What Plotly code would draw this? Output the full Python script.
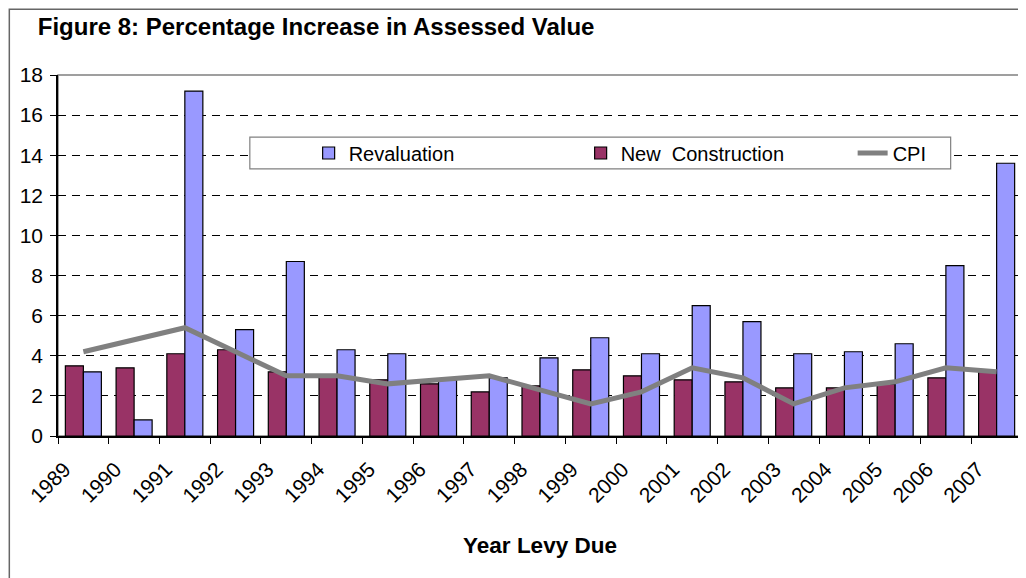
import plotly.graph_objects as go

years = [str(y) for y in range(1989, 2008)]
revaluation = [3.2, 0.8, 17.2, 5.3, 8.7, 4.3, 4.1, 2.8, 2.9, 3.9, 4.9, 4.1, 6.5, 5.7, 4.1, 4.2, 4.6, 8.5, 13.6]
new_construction = [3.5, 3.4, 4.1, 4.3, 3.2, 3.0, 2.8, 2.6, 2.2, 2.5, 3.3, 3.0, 2.8, 2.7, 2.4, 2.4, 2.6, 2.9, 3.2]
cpi = [4.2, 4.8, 5.4, 4.2, 3.0, 3.0, 2.6, 2.8, 3.0, 2.3, 1.6, 2.2, 3.4, 2.9, 1.6, 2.4, 2.7, 3.4, 3.2]

xpos = list(range(len(years)))
FONT = "Liberation Sans, Arial, sans-serif"

fig = go.Figure()

fig.add_trace(go.Bar(
    x=xpos, y=new_construction, name="New  Construction",
    marker=dict(color="#993366", line=dict(color="black", width=1.2)),
    legendrank=2,
))
fig.add_trace(go.Bar(
    x=xpos, y=revaluation, name="Revaluation",
    marker=dict(color="#9999FF", line=dict(color="black", width=1.2)),
    legendrank=1,
))
fig.add_trace(go.Scatter(
    x=xpos, y=cpi, name="CPI", mode="lines",
    line=dict(color="#808080", width=5),
    legendrank=3,
))

# plot-area frame (grey top/right) and outer chart border
fig.add_shape(type="rect", xref="paper", yref="paper", x0=0, x1=1, y0=0, y1=1,
              line=dict(color="#808080", width=1.5), layer="below")
fig.add_shape(type="rect", xref="paper", yref="paper", x0=-0.0505, x1=1.05, y0=-0.5, y1=1.182,
              line=dict(color="#666666", width=1.5), layer="below")
# legend frame (white, hides the grid behind it)
fig.add_shape(type="rect", xref="paper", yref="paper", x0=0.199, x1=0.926, y0=0.74, y1=0.828,
              line=dict(color="#808080", width=1.2), fillcolor="white", layer="above")

fig.update_layout(
    width=1026, height=578,
    margin=dict(l=50, r=12, t=67, b=150, autoexpand=False),
    paper_bgcolor="white", plot_bgcolor="white",
    font=dict(family=FONT, color="black", size=20),
    barmode="group", bargap=0.29, bargroupgap=0,
    title=dict(text="<b>Figure 8: Percentage Increase in Assessed Value</b>",
               font=dict(size=24), xref="container", yref="container",
               x=0.029, xanchor="left", y=0.968, yanchor="middle"),
    legend=dict(orientation="h", x=0.26, xanchor="left", y=0.784, yanchor="middle",
                bgcolor="rgba(0,0,0,0)", borderwidth=0,
                entrywidth=227, entrywidthmode="pixels",
                font=dict(size=20)),
    showlegend=True,
)

fig.update_xaxes(
    range=[-0.5, len(years) - 0.5], automargin=False,
    tickmode="array", tickvals=[i - 0.37 for i in xpos], ticktext=years,
    tickangle=-45, ticks="", showgrid=False, ticklabelstandoff=11,
    showline=True, linecolor="black", linewidth=1.5,
    minor=dict(tickmode="array", tickvals=[i - 0.5 for i in xpos] + [len(years) - 0.5],
               ticks="outside", ticklen=6, tickcolor="black", tickwidth=1.2, showgrid=False),
    tickfont=dict(size=21),
    title=dict(text="<b>Year Levy Due</b>", font=dict(size=22.5), standoff=32),
    zeroline=False,
)
fig.update_yaxes(
    range=[0, 18], dtick=2, tick0=0, automargin=False,
    ticks="outside", ticklen=6, tickcolor="black", tickwidth=1.2, ticklabelstandoff=3,
    showline=True, linecolor="black", linewidth=1.5,
    showgrid=True, gridcolor="black", gridwidth=1, griddash="8px,6px",
    zeroline=False, tickfont=dict(size=21),
)

fig.write_html("out.html")
